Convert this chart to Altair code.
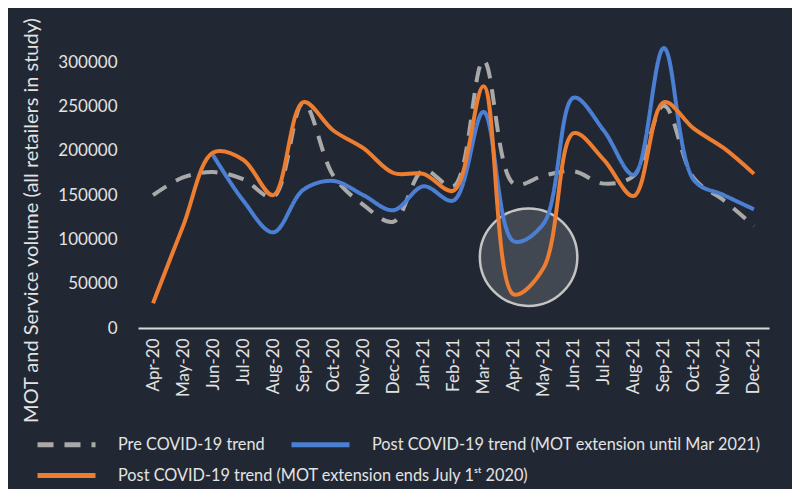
import altair as alt
import pandas as pd

months = ["Apr-20", "May-20", "Jun-20", "Jul-20", "Aug-20", "Sep-20", "Oct-20",
          "Nov-20", "Dec-20", "Jan-21", "Feb-21", "Mar-21", "Apr-21", "May-21",
          "Jun-21", "Jul-21", "Aug-21", "Sep-21", "Oct-21", "Nov-21", "Dec-21"]

pre_covid = [150000, 170000, 176000, 168000, 148000, 254000, 172000,
             139000, 120000, 178000, 160000, 302000, 163000, 172000,
             177000, 163000, 172000, 251000, 169000, 144000, 115000]

post_mar21 = [None, None, 195000, 144000, 108000, 156000, 166000,
              150000, 133000, 160000, 144000, 244000, 98000, 118000,
              260000, 223000, 173000, 316000, 167000, 150000, 134000]

post_jul20 = [28000, 115000, 198000, 190000, 150000, 255000, 223000,
              203000, 175000, 174000, 155000, 273000, 38000, 68000,
              220000, 190000, 149000, 255000, 225000, 203000, 174000]

series_names = ["Pre COVID-19 trend",
                "Post COVID-19 trend (MOT extension until Mar 2021)",
                "Post COVID-19 trend (MOT extension ends July 1ˢᵗ 2020)"]
series_colors = ["#a9a9a9", "#4a7fd4", "#ed7d31"]
series_dash = [[16, 11], [1, 0], [1, 0]]

circle_month = ["Apr-21"]
circle_value = [80000]

y_ticks = [0, 50000, 100000, 150000, 200000, 250000, 300000]


def frame(names, series_list):
    rows = []
    for name, vals in zip(names, series_list):
        for i, (m, v) in enumerate(zip(months, vals)):
            if v is not None:
                rows.append({"month": m, "idx": i, "value": v, "series": name})
    return pd.DataFrame(rows)


df_a = frame(series_names[:2], [pre_covid, post_mar21])
df_b = frame(series_names[2:], [post_jul20])
circle_df = pd.DataFrame({"month": circle_month, "value": circle_value})

font = "Lato"
text_col = "#e3e3e3"

x_scale = alt.Scale(type="point", padding=0.5, domain=months)
y_scale = alt.Scale(domain=[0, 350000])

x_enc = alt.X("month:O", scale=x_scale,
              axis=alt.Axis(title=None, labelAngle=270, labelFontSize=17,
                            labelColor=text_col, labelFont=font, ticks=False,
                            domainColor="#d9d9d9", domainWidth=2, labelPadding=10))
y_enc = alt.Y("value:Q", scale=y_scale,
              axis=alt.Axis(title="MOT and Service volume (all retailers in study)",
                            values=y_ticks, format="d", grid=False, ticks=False,
                            domain=False, labelFontSize=17, labelColor=text_col,
                            labelFont=font, labelPadding=21, titleFontSize=20,
                            titleColor=text_col, titleFont=font,
                            titleFontWeight="normal", titleX=-107, titleY=202,
                            titleAngle=270, titleAlign="center",
                            titleBaseline="middle"))

legend_common = dict(title=None, orient="none", direction="horizontal",
                     symbolType="M-2.9,0H2.9", symbolSize=400, symbolStrokeWidth=5,
                     labelFontSize=16.3, labelColor=text_col, labelFont=font,
                     labelLimit=0, columnPadding=16, labelOffset=39)

circle = alt.Chart(circle_df).mark_circle(
    size=9500, xOffset=15, fill="#ffffff", fillOpacity=0.15,
    stroke="#c4c4c4", strokeWidth=2.5, strokeOpacity=1
).encode(x=alt.X("month:O", scale=x_scale), y=alt.Y("value:Q", scale=y_scale))

lines_a = alt.Chart(df_a).mark_line(interpolate="catmull-rom", strokeWidth=4).encode(
    x=x_enc,
    y=y_enc,
    color=alt.Color("series:N",
                    scale=alt.Scale(domain=series_names[:2], range=series_colors[:2]),
                    legend=alt.Legend(legendX=-84, legendY=414, **legend_common)),
    strokeDash=alt.StrokeDash("series:N",
                              scale=alt.Scale(domain=series_names[:2], range=series_dash[:2]),
                              legend=None),
    order=alt.Order("idx:Q"),
)

lines_b = alt.Chart(df_b).mark_line(interpolate="catmull-rom", strokeWidth=4).encode(
    x=alt.X("month:O", scale=x_scale),
    y=alt.Y("value:Q", scale=y_scale),
    color=alt.Color("series:N",
                    scale=alt.Scale(domain=series_names[2:], range=series_colors[2:]),
                    legend=alt.Legend(legendX=-84, legendY=445, **legend_common)),
    order=alt.Order("idx:Q"),
)

chart = alt.layer(circle, lines_a, lines_b).resolve_scale(
    color="independent", strokeDash="independent"
).properties(
    width=631, height=310, background="#222833",
    autosize=alt.AutoSizeParams(type="none"),
    padding={"left": 130, "top": 10, "right": 23, "bottom": 161}
).configure_view(stroke=None)

chart.save("out.html", embed_options={"renderer": "svg", "actions": False})
